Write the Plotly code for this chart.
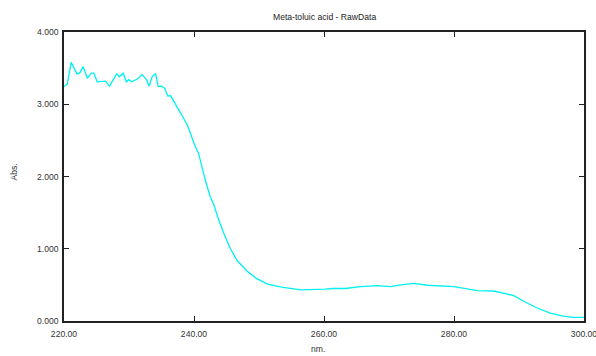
import plotly.graph_objects as go

# UV absorbance spectrum of meta-toluic acid (raw scan)
wavelength_nm = [
    220.0, 220.5, 221.1, 222.0, 222.4, 222.95, 223.6, 224.2, 224.6, 225.1,
    226.4, 227.0, 228.1, 228.5, 229.1, 229.6, 230.0, 230.4, 231.3, 232.0,
    232.7, 233.1, 233.6, 234.1, 234.5, 235.0, 235.5, 236.0, 236.4, 237.4,
    238.2, 239.0, 240.0, 240.7, 241.8, 242.5, 243.05, 243.8, 244.6, 245.6,
    246.6, 247.5, 248.2, 249.6, 251.3, 253.5, 256.4, 260.2, 261.3, 263.3,
    265.6, 268.2, 270.2, 271.8, 273.8, 275.9, 277.9, 280.0, 283.6, 286.1,
    287.9, 289.2, 290.8, 292.8, 294.8, 296.6, 298.2, 300.0,
]
absorbance = [
    3.245, 3.28, 3.58, 3.42, 3.43, 3.52, 3.36, 3.43, 3.43, 3.31,
    3.32, 3.25, 3.42, 3.38, 3.43, 3.31, 3.34, 3.31, 3.35, 3.41,
    3.34, 3.25, 3.39, 3.42, 3.245, 3.25, 3.22, 3.11, 3.12, 2.97,
    2.83, 2.71, 2.46, 2.32, 1.93, 1.72, 1.61, 1.40, 1.21, 1.00,
    0.84, 0.75, 0.69, 0.59, 0.51, 0.47, 0.43, 0.44, 0.45, 0.45,
    0.475, 0.49, 0.475, 0.50, 0.52, 0.495, 0.49, 0.475, 0.42, 0.415,
    0.38, 0.35, 0.27, 0.18, 0.11, 0.07, 0.05, 0.05,
]

x_ticks = [220, 240, 260, 280, 300]
y_ticks = [0, 1, 2, 3, 4]

FONT = "Liberation Sans Narrow, Liberation Sans, Arial, sans-serif"
FS = 8.6

fig = go.Figure(
    go.Scatter(
        x=wavelength_nm,
        y=absorbance,
        mode="lines",
        line=dict(color="#00F0F0", width=1.3),
        hoverinfo="skip",
    )
)

axis_common = dict(
    showline=True,
    linecolor="#222222",
    linewidth=1.5,
    mirror="allticks",
    ticks="inside",
    ticklen=5,
    tickwidth=1,
    tickcolor="#222222",
    showgrid=False,
    zeroline=False,
    automargin=False,
    ticklabeloverflow="allow",
    tickfont=dict(family=FONT, size=FS, color="#333333"),
)

fig.update_layout(
    width=596,
    height=356,
    margin=dict(l=63.5, r=12, t=32, b=35, autoexpand=False),
    paper_bgcolor="white",
    plot_bgcolor="white",
    showlegend=False,
    xaxis=dict(
        range=[220, 300],
        tickvals=x_ticks,
        tickformat=".2f",
        ticklabelstandoff=4,
        **axis_common,
    ),
    yaxis=dict(
        range=[0, 4],
        tickvals=y_ticks,
        tickformat=".3f",
        ticklabelstandoff=2,
        **axis_common,
    ),
)

# Free-floating labels, positioned in pixels relative to the plot area
plot_w = 596 - 63.5 - 12
plot_h = 356 - 32 - 35
label_font = dict(family=FONT, size=FS, color="#333333")
fig.add_annotation(
    text="Meta-toluic acid - RawData",
    x=0.5, xref="paper", y=1 + (32 - 17) / plot_h, yref="paper",
    yanchor="middle", showarrow=False,
    font=dict(family=FONT, size=FS, color="#222222"),
)
fig.add_annotation(
    text="nm.",
    x=(318 - 63.5) / plot_w, xref="paper", y=-(349 - 321) / plot_h, yref="paper",
    yanchor="middle", showarrow=False, font=label_font,
)
fig.add_annotation(
    text="Abs.",
    x=-(63.5 - 13) / plot_w, xref="paper", y=(321 - 172) / plot_h, yref="paper",
    xanchor="center", yanchor="middle", showarrow=False, textangle=-90,
    font=label_font,
)

fig.write_html("out.html")
